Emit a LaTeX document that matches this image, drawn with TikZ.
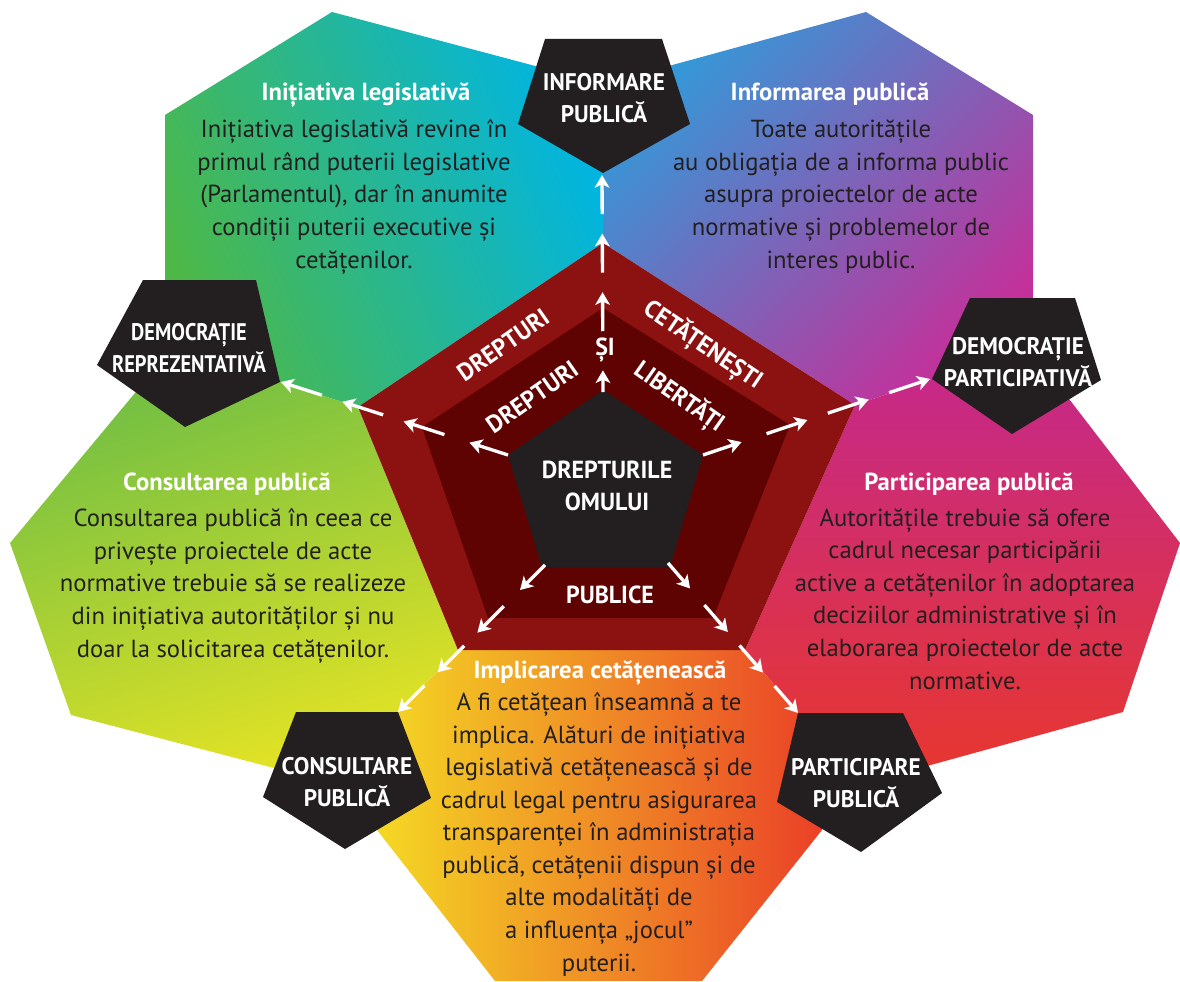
\documentclass[tikz,border=0pt]{standalone}
\usepackage{fontspec}
\setmainfont{PT Sans}
\newfontfamily\capsfont[FakeStretch=0.97]{PT Sans}
\newfontfamily\narrowcaps[FakeStretch=0.85]{PT Sans}
\usetikzlibrary{arrows.meta,calc}
\definecolor{ink}{HTML}{231F20}
\definecolor{ringout}{HTML}{8C1111}
\definecolor{ringin}{HTML}{5E0202}
\definecolor{leaf}{HTML}{4DB848}
\definecolor{sky}{HTML}{00B5E2}
\definecolor{azure}{HTML}{3399D8}
\definecolor{lavender}{HTML}{8A7CBC}
\definecolor{plum}{HTML}{C4309A}
\definecolor{lime}{HTML}{6CBD45}
\definecolor{chartreuse}{HTML}{B4D335}
\definecolor{lemon}{HTML}{E6E424}
\definecolor{sun}{HTML}{F5E523}
\definecolor{tangerine}{HTML}{EF9A2A}
\definecolor{scarlet}{HTML}{EA3A28}
\definecolor{fuchsia}{HTML}{C4288C}
\definecolor{crimson}{HTML}{E8372E}
\tikzset{
  plate/.style={fill=ink},
  tag/.style={font=\capsfont\bfseries\fontsize{18}{24}\selectfont,text=white,align=center,anchor=base,inner sep=0pt},
  ringtext/.style={font=\capsfont\bfseries\fontsize{18.5}{24}\selectfont,text=white,inner sep=0pt},
  headline/.style={font=\bfseries\fontsize{18.5}{24.4}\selectfont,text=white,anchor=base,inner sep=0pt},
  blurb/.style={font=\fontsize{18.5}{24.4}\selectfont,text=ink,align=center,anchor=base,inner sep=0pt},
  hop/.style={draw=white,line width=2.5pt,-{Stealth[length=9.5pt,width=11pt,inset=2.5pt]}}
}
\begin{document}
\begin{tikzpicture}[x=0.75pt,y=-0.75pt]
  \useasboundingbox (0,0) rectangle (1180,981);

  % coloured faces
  \shade[left color=leaf,right color=sky,shading angle=112]
    (358,407) -- (603,243) -- (603,84) -- (332,12) -- (165,115) -- (165,340) -- (230,366) -- cycle;
  \shade[left color=azure,middle color=lavender,right color=plum,shading angle=45]
    (603,243) -- (855,405) -- (932,379) -- (1033,330) -- (1033,115) -- (866,12) -- (603,84) -- cycle;
  \shade[top color=fuchsia,bottom color=crimson]
    (745,650) -- (855,405) -- (932,379) -- (1039,360) -- (1180,543) -- (1123,712) -- (927,766) -- (880,779) -- (798,713) -- cycle;
  \shade[left color=sun,middle color=tangerine,right color=scarlet]
    (458,650) -- (745,650) -- (798,713) -- (840,790) -- (822,830) -- (702,981) -- (495,981) -- (377,830) -- (340,780) -- (398,712) -- cycle;
  \shade[top color=lime,middle color=chartreuse,bottom color=lemon,shading angle=18]
    (358,407) -- (230,366) -- (175,345) -- (10,543) -- (71,715) -- (274,768) -- (330,783) -- (398,712) -- (458,650) -- cycle;

  % rings and hub
  \fill[ringout] (603,243) -- (855,405) -- (745,650) -- (458,650) -- (358,407) -- cycle;
  \fill[ringin] (603,308) -- (790,425) -- (713,618) -- (488,618) -- (422,427) -- cycle;
  \fill[ink] (603,390) -- (703,455) -- (670,567) -- (542,567) -- (508,455) -- cycle;
  \coordinate (hub-n) at (603,392);
  \coordinate (hub-w) at (508,455);
  \coordinate (hub-e) at (703,455);
  \coordinate (hub-sw) at (545,565);
  \coordinate (hub-se) at (668,563);

  % black pentagons
  \fill[plate] (545,39) -- (662,39) -- (690,124) -- (603,173) -- (518,124) -- cycle;
  \fill[plate] (143,280) -- (256,280) -- (280,382) -- (185,427) -- (97,365) -- cycle;
  \fill[plate] (970,298) -- (1075,298) -- (1101,380) -- (1012,434) -- (932,379) -- cycle;
  \fill[plate] (296,712) -- (398,712) -- (431,798) -- (345,849) -- (263,797) -- cycle;
  \fill[plate] (798,713) -- (903,713) -- (942,793) -- (861,852) -- (777,802) -- cycle;
  \coordinate (inf-tip) at (602,175);
  \coordinate (dr-tip) at (281,382);
  \coordinate (dp-tip) at (930,379);
  \coordinate (cp-tip) at (398,712);
  \coordinate (pp-tip) at (798,713);

  % arrows
  \foreach \from/\to/\cut in {hub-n/inf-tip/0.1,hub-w/dr-tip/0.17,hub-e/dp-tip/0.17,hub-sw/cp-tip/0.17,hub-se/pp-tip/0.17}
    \foreach \s/\e in {0/\cut,0.28/0.46,0.55/0.73,0.82/1}
      \draw[hop] ($(\from)!\s!(\to)$) -- ($(\from)!\e!(\to)$);

  % labels (base = last line)
  \node[tag] (inf) at (604,122) {INFORMARE\\PUBLICĂ};
  \node[tag,font=\narrowcaps\bfseries\fontsize{18}{24}\selectfont] (dr) at (189,372) {DEMOCRAȚIE\\REPREZENTATIVĂ};
  \node[tag] (dp) at (1018,386) {DEMOCRAȚIE\\PARTICIPATIVĂ};
  \node[tag] (cp) at (347,806) {CONSULTARE\\PUBLICĂ};
  \node[tag] (pp) at (856,807) {PARTICIPARE\\PUBLICĂ};
  \node[tag,font=\capsfont\bfseries\fontsize{18.5}{24}\selectfont] (hub) at (607,510) {DREPTURILE\\OMULUI};

  \node[ringtext,rotate=35] (dc-out) at (503,345) {DREPTURI};
  \node[ringtext,rotate=-34] (cet) at (703,345) {CETĂȚENEȘTI};
  \node[ringtext,rotate=35] (dc-in) at (532,397) {DREPTURI};
  \node[ringtext,rotate=-35] (lib) at (679,397) {LIBERTĂȚI};
  \node[ringtext] (si) at (605,350) {ȘI};
  \node[ringtext] (pub) at (610,595) {PUBLICE};

  \node[headline] (t-init) at (366,100) {Inițiativa legislativă};
  \node[blurb] (b-init) at (354,268) {Inițiativa legislativă revine în\\primul rând puterii legislative\\(Parlamentul), dar în anumite\\condiții puterii executive și\\cetățenilor.};
  \node[headline] (t-info) at (830,100) {Informarea publică};
  \node[blurb] (b-info) at (841,268) {Toate autoritățile\\au obligația de a informa public\\asupra proiectelor de acte\\normative și problemelor de\\interes public.};
  \node[headline] (t-cons) at (227,490) {Consultarea publică};
  \node[blurb] (b-cons) at (233,657) {Consultarea publică în ceea ce\\privește proiectele de acte\\normative trebuie să se realizeze\\din inițiativa autorităților și nu\\doar la solicitarea cetățenilor.};
  \node[headline] (t-part) at (969,490) {Participarea publică};
  \node[blurb] (b-part) at (965,689) {Autoritățile trebuie să ofere\\cadrul necesar participării\\active a cetățenilor în adoptarea\\deciziilor administrative și în\\elaborarea proiectelor de acte\\normative.};
  \node[headline] (t-impl) at (600,678) {Implicarea cetățenească};
  \node[blurb] (b-impl) at (599,971) {A fi cetățean înseamnă a te\\implica. Alături de inițiativa\\legislativă cetățenească și de\\cadrul legal pentru asigurarea\\transparenței în administrația\\publică, cetățenii dispun și de\\alte modalități de\\a influența „jocul”\\puterii.};
\end{tikzpicture}
\end{document}
